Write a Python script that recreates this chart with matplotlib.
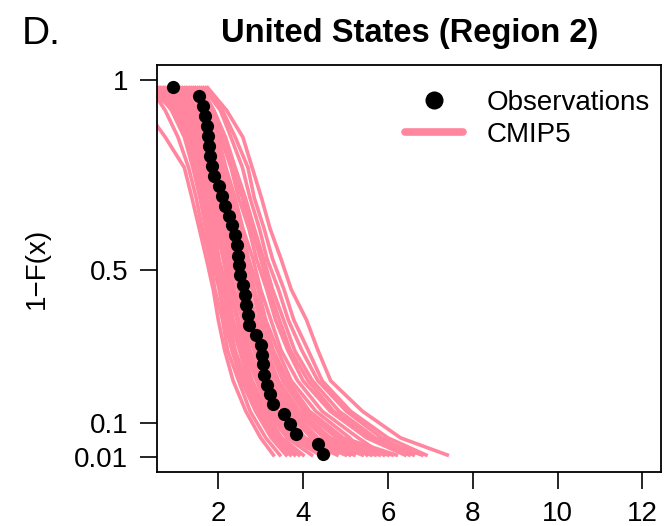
import numpy as np
import matplotlib
matplotlib.use("Agg")
import matplotlib.pyplot as plt
from matplotlib.lines import Line2D

plt.rcParams['font.family'] = ['Liberation Sans', 'DejaVu Sans']

# observed sample: sorted values and exceedance probabilities
obs_x = [0.93, 1.54, 1.64, 1.69, 1.73, 1.76, 1.78, 1.81, 1.85, 1.91,
         2.01, 2.09, 2.16, 2.25, 2.32, 2.39, 2.43, 2.47, 2.49, 2.51,
         2.58, 2.63, 2.66, 2.69, 2.72, 2.88, 3.00, 3.04, 3.05, 3.07,
         3.14, 3.23, 3.29, 3.54, 3.68, 3.83, 4.36, 4.48]
obs_p = [0.983, 0.957, 0.931, 0.905, 0.879, 0.852, 0.826, 0.800, 0.774, 0.748,
         0.722, 0.696, 0.670, 0.644, 0.618, 0.592, 0.566, 0.539, 0.513, 0.487,
         0.461, 0.435, 0.409, 0.383, 0.357, 0.331, 0.305, 0.279, 0.253, 0.226,
         0.200, 0.174, 0.148, 0.122, 0.096, 0.070, 0.044, 0.018]

# CMIP5 models: value at each exceedance level
model_p = [0.98, 0.92, 0.85, 0.77, 0.69, 0.61, 0.53, 0.45, 0.37, 0.29, 0.21, 0.13, 0.06, 0.015]
models = [
    [0.00, 0.30, 0.75, 1.20, 1.38, 1.55, 1.72, 1.88, 2.00, 2.15, 2.35, 2.65, 3.00, 3.30],
    [0.40, 0.75, 1.05, 1.30, 1.48, 1.62, 1.80, 1.92, 2.10, 2.22, 2.48, 2.75, 3.12, 3.45],
    [0.50, 0.90, 1.20, 1.40, 1.57, 1.70, 1.85, 2.02, 2.15, 2.32, 2.55, 2.88, 3.25, 3.60],
    [0.60, 1.00, 1.25, 1.47, 1.62, 1.80, 1.92, 2.08, 2.25, 2.40, 2.65, 2.95, 3.38, 3.80],
    [0.55, 1.10, 1.32, 1.52, 1.70, 1.82, 1.98, 2.14, 2.30, 2.50, 2.72, 3.08, 3.50, 4.00],
    [0.70, 1.15, 1.40, 1.58, 1.72, 1.90, 2.02, 2.20, 2.35, 2.57, 2.80, 3.15, 3.62, 4.20],
    [0.80, 1.20, 1.45, 1.62, 1.80, 1.95, 2.12, 2.25, 2.44, 2.62, 2.90, 3.22, 3.70, 4.40],
    [0.65, 1.25, 1.50, 1.70, 1.85, 2.02, 2.15, 2.32, 2.48, 2.70, 2.95, 3.32, 3.85, 4.60],
    [0.90, 1.30, 1.55, 1.72, 1.90, 2.05, 2.22, 2.38, 2.57, 2.75, 3.02, 3.40, 3.95, 4.80],
    [1.00, 1.35, 1.60, 1.78, 1.95, 2.12, 2.28, 2.47, 2.62, 2.84, 3.10, 3.52, 4.05, 5.00],
    [0.75, 1.40, 1.62, 1.84, 2.00, 2.15, 2.34, 2.50, 2.70, 2.90, 3.20, 3.60, 4.20, 5.20],
    [1.10, 1.45, 1.70, 1.88, 2.07, 2.22, 2.40, 2.60, 2.75, 3.00, 3.28, 3.72, 4.35, 5.40],
    [1.20, 1.50, 1.72, 1.94, 2.10, 2.30, 2.45, 2.62, 2.84, 3.05, 3.37, 3.80, 4.50, 5.60],
    [0.95, 1.55, 1.80, 1.98, 2.17, 2.32, 2.52, 2.70, 2.90, 3.14, 3.42, 3.92, 4.65, 5.80],
    [1.30, 1.60, 1.82, 2.04, 2.20, 2.40, 2.58, 2.80, 2.98, 3.22, 3.52, 4.02, 4.80, 6.00],
    [1.40, 1.65, 1.90, 2.08, 2.28, 2.45, 2.67, 2.85, 3.07, 3.30, 3.64, 4.15, 4.95, 6.20],
    [1.25, 1.70, 1.92, 2.14, 2.32, 2.54, 2.72, 2.94, 3.12, 3.40, 3.72, 4.30, 5.10, 5.50],
    [1.50, 1.75, 2.00, 2.18, 2.40, 2.58, 2.82, 3.00, 3.24, 3.48, 3.87, 4.45, 5.30, 5.90],
    [1.45, 1.80, 2.05, 2.30, 2.48, 2.72, 2.90, 3.14, 3.35, 3.64, 4.00, 4.64, 5.50, 6.40],
    [1.60, 1.90, 2.17, 2.40, 2.64, 2.85, 3.07, 3.28, 3.54, 3.80, 4.22, 4.85, 5.70, 6.80],
    [1.70, 2.10, 2.40, 2.70, 2.85, 3.08, 3.28, 3.55, 3.78, 4.12, 4.45, 5.12, 6.00, 6.90],
    [1.75, 2.20, 2.58, 2.80, 3.02, 3.22, 3.48, 3.72, 4.08, 4.35, 4.65, 5.40, 6.30, 7.40],
    [1.65, 2.05, 2.30, 2.57, 2.75, 2.97, 3.15, 3.42, 3.65, 3.97, 4.35, 5.02, 5.85, 6.60],
    [0.45, 1.05, 1.35, 1.57, 1.70, 1.87, 2.00, 2.17, 2.32, 2.52, 2.70, 3.02, 3.45, 3.90],
    [0.85, 1.28, 1.48, 1.67, 1.82, 2.00, 2.12, 2.30, 2.45, 2.67, 2.92, 3.27, 3.75, 4.50],
    [1.05, 1.42, 1.67, 1.85, 2.04, 2.18, 2.37, 2.52, 2.74, 2.92, 3.24, 3.65, 4.28, 5.10],
    [1.15, 1.52, 1.75, 1.97, 2.12, 2.32, 2.48, 2.68, 2.86, 3.10, 3.38, 3.87, 4.55, 5.70],
    [1.35, 1.62, 1.87, 2.05, 2.24, 2.42, 2.64, 2.82, 3.04, 3.25, 3.60, 4.08, 4.88, 6.10],
    [0.35, 0.95, 1.22, 1.44, 1.58, 1.77, 1.90, 2.07, 2.20, 2.37, 2.58, 2.92, 3.30, 3.70],
    [1.55, 1.85, 2.12, 2.32, 2.57, 2.78, 3.00, 3.20, 3.44, 3.70, 4.12, 4.72, 5.60, 6.50],
]

pink = '#FF869E'
fs = 20

fig = plt.figure(figsize=(6.69, 5.26), dpi=100)
ax = fig.add_axes([0.235, 0.1027, 0.753, 0.7737])

for m in models:
    ax.plot(m, model_p, color=pink, lw=2.6, solid_joinstyle='round')
ax.plot(obs_x, obs_p, 'o', color='black', ms=9.5, mew=0)

ax.set_xlim(0.56, 12.44)
ax.set_ylim(0.01 - 0.0396, 1 + 0.0396)
ax.set_xticks([2, 4, 6, 8, 10, 12])
ax.set_yticks([0.01, 0.1, 0.5, 1])
ax.set_yticklabels(['0.01', '0.1', '0.5', '1'])
ax.tick_params(labelsize=fs, length=12, width=1.2, pad=9, direction='out')
for s in ax.spines.values():
    s.set_linewidth(1.3)

ax.set_ylabel('1\u2212F(x)', fontsize=fs)
ax.yaxis.set_label_coords(-0.213, 0.5)

handles = [Line2D([], [], marker='o', ls='none', color='black', ms=13, mew=0),
           Line2D([], [], color=pink, lw=5.5, solid_capstyle='round')]
ax.legend(handles, ['Observations', 'CMIP5'], loc='upper left', frameon=False,
          fontsize=fs, handlelength=2.1, handletextpad=0.85, labelspacing=0.2,
          borderpad=0.4, bbox_to_anchor=(380 / 669, 1 - 65 / 526),
          bbox_transform=fig.transFigure)

fig.text(0.612, 0.937, 'United States (Region 2)', fontsize=23.5, fontweight='bold',
         ha='center', va='center')
fig.text(0.032, 0.935, 'D.', fontsize=28, ha='left', va='center')

fig.savefig('out.png', dpi=100)
